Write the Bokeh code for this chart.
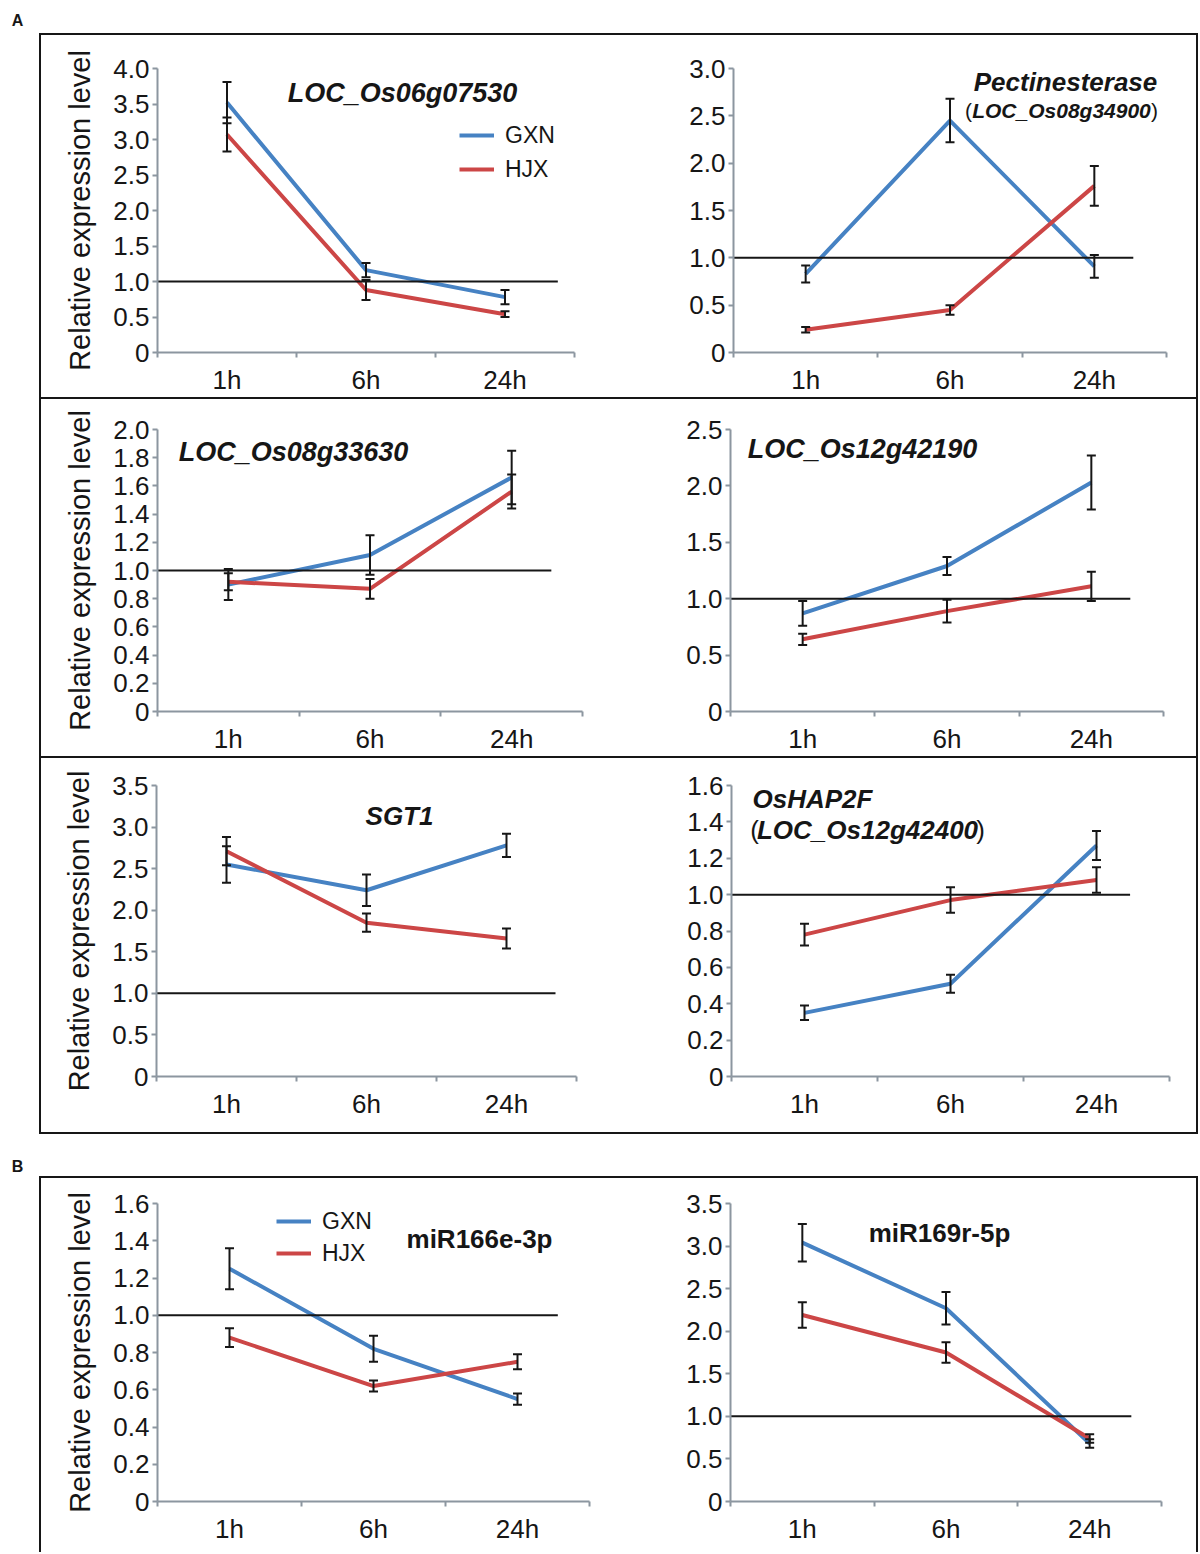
from bokeh.plotting import figure
from bokeh.models import (Range1d, FixedTicker, ColumnDataSource, Whisker, TeeHead,
                          Label, Legend, LegendItem, Spacer, PrintfTickFormatter)
from bokeh.layouts import column, row
from bokeh.embed import file_html
from bokeh.resources import INLINE

# ---------------- data ----------------
times = ["1h", "6h", "24h"]
series_names = ["GXN", "HJX"]

loc06_gxn = [3.52, 1.16, 0.78]
loc06_gxn_err = [0.29, 0.10, 0.10]
loc06_hjx = [3.07, 0.88, 0.54]
loc06_hjx_err = [0.24, 0.14, 0.04]

pect_gxn = [0.83, 2.45, 0.91]
pect_gxn_err = [0.09, 0.23, 0.12]
pect_hjx = [0.24, 0.45, 1.76]
pect_hjx_err = [0.03, 0.05, 0.21]

loc08_gxn = [0.90, 1.11, 1.66]
loc08_gxn_err = [0.11, 0.14, 0.19]
loc08_hjx = [0.92, 0.87, 1.56]
loc08_hjx_err = [0.06, 0.07, 0.12]

loc12_gxn = [0.87, 1.29, 2.03]
loc12_gxn_err = [0.11, 0.08, 0.24]
loc12_hjx = [0.64, 0.89, 1.11]
loc12_hjx_err = [0.05, 0.10, 0.13]

sgt1_gxn = [2.55, 2.24, 2.78]
sgt1_gxn_err = [0.22, 0.19, 0.14]
sgt1_hjx = [2.71, 1.85, 1.66]
sgt1_hjx_err = [0.17, 0.11, 0.12]

hap2f_gxn = [0.35, 0.51, 1.27]
hap2f_gxn_err = [0.04, 0.05, 0.08]
hap2f_hjx = [0.78, 0.97, 1.08]
hap2f_hjx_err = [0.06, 0.07, 0.07]

mir166_gxn = [1.25, 0.82, 0.55]
mir166_gxn_err = [0.11, 0.07, 0.03]
mir166_hjx = [0.88, 0.62, 0.75]
mir166_hjx_err = [0.05, 0.03, 0.04]

mir169_gxn = [3.04, 2.27, 0.68]
mir169_gxn_err = [0.22, 0.19, 0.05]
mir169_hjx = [2.19, 1.75, 0.74]
mir169_hjx_err = [0.15, 0.12, 0.05]

reference_level = 1.0

# ---------------- style ----------------
BLUE = "#4682c3"
RED = "#cc4646"
AXIS = "#8c96a0"
INK = "#161616"
FONT = "Liberation Sans"
YLABEL = "Relative expression level"


def panel(w, h, mb, ymax, ystep, gxn, gxn_err, hjx, hjx_err, ylabel=True, ref_end=2.8):
    l, r, t, b = mb
    p = figure(width=w, height=h, output_backend="svg", toolbar_location=None,
               x_range=Range1d(0, len(times)), y_range=Range1d(0, ymax),
               min_border_left=l, min_border_right=r, min_border_top=t, min_border_bottom=b,
               outline_line_color=None, background_fill_color="white",
               border_fill_color="white")
    p.xgrid.visible = False
    p.ygrid.visible = False

    xs = [i + 0.5 for i in range(len(times))]

    # x axis (labels at category centres, small ticks at category boundaries)
    xa = p.xaxis[0]
    xa.ticker = FixedTicker(ticks=xs, minor_ticks=list(range(len(times) + 1)))
    xa.major_label_overrides = {x: t_ for x, t_ in zip(xs, times)}
    xa.major_tick_out = 0
    xa.major_tick_in = 0
    xa.minor_tick_out = 5
    xa.minor_tick_in = 0
    xa.minor_tick_line_color = AXIS
    xa.minor_tick_line_width = 2
    xa.axis_line_color = AXIS
    xa.axis_line_width = 2
    xa.major_label_text_font = FONT
    xa.major_label_text_font_size = "26px"
    xa.major_label_text_color = INK
    xa.major_label_standoff = 7

    # y axis
    n = int(round(ymax / ystep))
    ticks = [round(i * ystep, 2) for i in range(n + 1)]
    ya = p.yaxis[0]
    ya.ticker = FixedTicker(ticks=ticks, minor_ticks=[])
    ya.formatter = PrintfTickFormatter(format="%.1f")
    ya.major_label_overrides = {0: "0"}
    ya.major_tick_out = 5
    ya.major_tick_in = 0
    ya.major_tick_line_color = AXIS
    ya.major_tick_line_width = 2
    ya.axis_line_color = AXIS
    ya.axis_line_width = 2
    ya.major_label_text_font = FONT
    ya.major_label_text_font_size = "26px"
    ya.major_label_text_color = INK
    ya.major_label_standoff = 3
    if ylabel:
        ya.axis_label = YLABEL
        ya.axis_label_text_font = FONT
        ya.axis_label_text_font_size = "29px"
        ya.axis_label_text_font_style = "normal"
        ya.axis_label_text_color = INK
        ya.axis_label_standoff = 14

    rends = []
    for vals, col in ((gxn, BLUE), (hjx, RED)):
        rends.append(p.line(xs, vals, line_color=col, line_width=4))
    # reference line at 1.0
    p.line([0, ref_end], [reference_level, reference_level], line_color=INK, line_width=2)
    for vals, errs in ((gxn, gxn_err), (hjx, hjx_err)):
        src = ColumnDataSource(dict(x=xs,
                                    upper=[v + e for v, e in zip(vals, errs)],
                                    lower=[v - e for v, e in zip(vals, errs)]))
        wsk = Whisker(base="x", upper="upper", lower="lower", source=src,
                      line_color=INK, line_width=2, level="overlay",
                      upper_head=TeeHead(size=9, line_width=2, line_color=INK),
                      lower_head=TeeHead(size=9, line_width=2, line_color=INK))
        p.add_layout(wsk)
    return p, rends


def title(p, text, x, y, size="27px", style="bold italic"):
    p.add_layout(Label(x=x, y=y, x_units="screen", y_units="screen", text=text,
                       text_font=FONT, text_font_size=size, text_font_style=style,
                       text_color=INK, text_align="center", text_baseline="middle"))


def legend(p, rends, loc, spacing):
    lg = Legend(items=[LegendItem(label=n_, renderers=[r_]) for n_, r_ in zip(series_names, rends)],
                location=loc, orientation="vertical", border_line_color=None,
                background_fill_alpha=0, padding=0, margin=0, spacing=spacing,
                glyph_width=35, glyph_height=30, label_height=30, label_standoff=11,
                label_text_font=FONT, label_text_font_size="23px", label_text_color=INK)
    p.add_layout(lg)


def bar(w, h):
    return Spacer(width=w, height=h, styles={"background-color": "#161616"})


def header(h, letter, y):
    f = figure(width=1198, height=h, x_axis_type=None, y_axis_type=None, min_border=0,
               toolbar_location=None, outline_line_color=None, output_backend="svg",
               background_fill_color="white", border_fill_color="white")
    f.add_layout(Label(x=17, y=y, x_units="screen", y_units="screen", text=letter,
                       text_font=FONT, text_font_size="16px", text_font_style="bold",
                       text_color=INK, text_align="center", text_baseline="middle"))
    return f


A1, r1 = panel(579, 362, (116, 46, 33, 42), 4.0, 0.5, loc06_gxn, loc06_gxn_err, loc06_hjx, loc06_hjx_err,
               ref_end=2.88)
title(A1, "LOC_Os06g07530", 245, 260)
legend(A1, r1, (302, 168), 4)

A2, _ = panel(576, 362, (113, 30, 31, 38), 3.0, 0.5, pect_gxn, pect_gxn_err, pect_hjx, pect_hjx_err,
              ylabel=False, ref_end=2.77)
title(A2, "Pectinesterase", 332, 271, size="26px")
title(A2, "LOC_Os08g34900", 328, 242, size="21px")
title(A2, "(", 328 - 93, 242, size="21px", style="normal")
title(A2, ")", 328 + 93, 242, size="21px", style="normal")

A3, _ = panel(579, 357, (116, 38, 30, 43), 2.0, 0.2, loc08_gxn, loc08_gxn_err, loc08_hjx, loc08_hjx_err,
              ref_end=2.78)
title(A3, "LOC_Os08g33630", 136, 260)

A4, _ = panel(576, 357, (110, 33, 24, 41), 2.5, 0.5, loc12_gxn, loc12_gxn_err, loc12_hjx, loc12_hjx_err,
              ylabel=False, ref_end=2.77)
title(A4, "LOC_Os12g42190", 132, 263)

A5, _ = panel(579, 374, (115, 44, 27, 56), 3.5, 0.5, sgt1_gxn, sgt1_gxn_err, sgt1_hjx, sgt1_hjx_err,
              ref_end=2.85)
title(A5, "SGT1", 243, 261, size="26px")

A6, _ = panel(576, 374, (111, 27, 27, 52), 1.6, 0.2, hap2f_gxn, hap2f_gxn_err, hap2f_hjx, hap2f_hjx_err,
              ylabel=False, ref_end=2.73)
title(A6, "OsHAP2F", 81, 278, size="26px")
title(A6, "LOC_Os12g42400", 136, 247, size="26px")
title(A6, "(", 136 - 113, 247, size="26px", style="normal")
title(A6, ")", 136 + 113, 247, size="26px", style="normal")

B1, r7 = panel(579, 374, (116, 31, 24, 51), 1.6, 0.2, mir166_gxn, mir166_gxn_err, mir166_hjx, mir166_hjx_err,
               ref_end=2.78)
title(B1, "miR166e-3p", 322, 263, size="26px", style="bold")
legend(B1, r7, (119, 233), 2)

B2, _ = panel(576, 374, (110, 35, 25, 51), 3.5, 0.5, mir169_gxn, mir169_gxn_err, mir169_hjx, mir169_hjx_err,
              ylabel=False, ref_end=2.79)
title(B2, "miR169r-5p", 209, 269, size="26px", style="bold")

inner_w = 579 + 576
HA = 2 + 362 + 2 + 357 + 2 + 374 + 2
HB = 2 + 374

blockA = row(Spacer(width=39, height=HA), bar(2, HA),
             column(bar(inner_w, 2), row(A1, A2), bar(inner_w, 2), row(A3, A4),
                    bar(inner_w, 2), row(A5, A6), bar(inner_w, 2)),
             bar(2, HA))
blockB = row(Spacer(width=39, height=HB), bar(2, HB),
             column(bar(inner_w, 2), row(B1, B2)),
             bar(2, HB))

layout = column(header(33, "A", 13), blockA, header(42, "B", 10), blockB)

open("out.html", "w").write(file_html(layout, INLINE))
